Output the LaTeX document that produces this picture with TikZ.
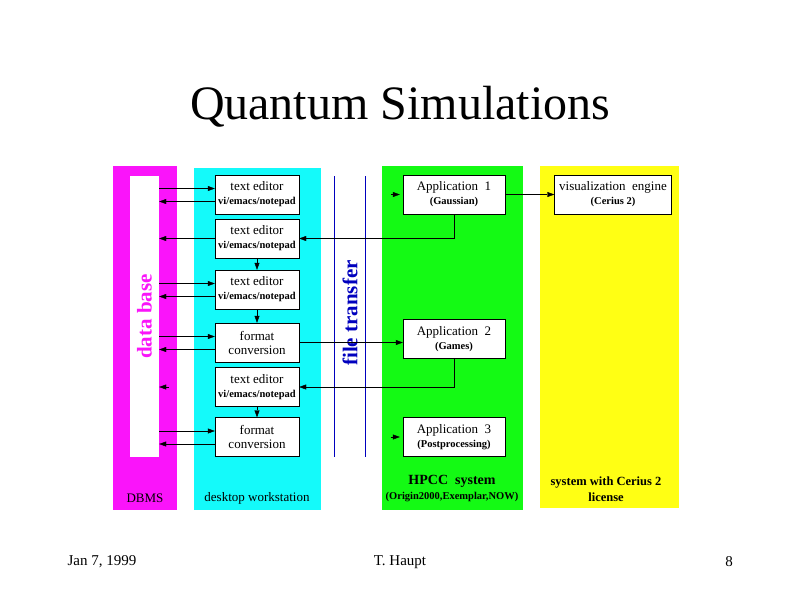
\documentclass[tikz,border=0pt]{standalone}
\usepackage{fontspec}
\setmainfont{Liberation Serif}
\usetikzlibrary{arrows.meta,positioning,calc}

\definecolor{dbmagenta}{RGB}{250,20,250}
\definecolor{wscyan}{RGB}{20,250,250}
\definecolor{hpgreen}{RGB}{20,250,20}
\definecolor{cryellow}{RGB}{255,255,20}
\definecolor{ftblue}{RGB}{0,0,190}

\newcommand{\boxsub}[1]{{\fontsize{10.5}{12}\selectfont\bfseries #1}}

\begin{document}
\begin{tikzpicture}[x=1pt, y=-1pt,
    % Base styles for the boxes
    every node/.style={font=\fontsize{13}{14}\selectfont},
    box/.style={draw, fill=white, minimum width=84pt, minimum height=39pt,
        inner sep=1pt, align=center},
    dbbar/.style={fill=white, minimum width=29pt, minimum height=281pt, inner sep=0pt},
    panellabel/.style={font=\fontsize{13}{15}\selectfont, align=center},
    arr/.style={-{Triangle[length=7pt,width=5pt]}}
]
\useasboundingbox (0,0) rectangle (800,600);

% ==================== TITLE AND FOOTER ====================
\node (title) at (400,107) {\fontsize{48}{52}\selectfont Quantum Simulations};
\node[anchor=west, font=\fontsize{15}{17}\selectfont] (date) at (64,562) {Jan 7, 1999};
\node[font=\fontsize{15}{17}\selectfont] (author) at (400,562) {T. Haupt};
\node[font=\fontsize{15}{17}\selectfont] (page) at (729,562) {8};

% ==================== PANELS ====================
\fill[dbmagenta] (113,166) rectangle (177,510);
\fill[wscyan] (194,168) rectangle (321,510);
\fill[hpgreen] (382,166) rectangle (523,510);
\fill[cryellow] (540,166) rectangle (679,508);

% ==================== DBMS ====================
\node[dbbar] (db) at (144.5,316.5) {};
\node[rotate=90, text=dbmagenta, font=\fontsize{21}{23}\selectfont\bfseries] (dblabel) at (db) {data base};
\node[panellabel] (dbms) at (145,498) {DBMS};

% ==================== DESKTOP WORKSTATION ====================
\node[box] (te1) at (257,194.5) {text editor\\\boxsub{vi/emacs/notepad}};
\node[box] (te2) at (257,238.5) {text editor\\\boxsub{vi/emacs/notepad}};
\node[box] (te3) at (257,289.5) {text editor\\\boxsub{vi/emacs/notepad}};
\node[box] (fc1) at (257,342.5) {format\\conversion};
\node[box] (te5) at (257,387) {text editor\\\boxsub{vi/emacs/notepad}};
\node[box] (fc2) at (257,437) {format\\conversion};
\node[panellabel] (wslabel) at (257,498) {desktop workstation};

% ==================== FILE TRANSFER ====================
\draw[ftblue, semithick] (334,176) -- (334,457);
\draw[ftblue, semithick] (365,176) -- (365,457);
\node[rotate=90, text=ftblue, font=\fontsize{21}{23}\selectfont\bfseries] (ftlabel) at (350,313) {file transfer};

% ==================== HPCC SYSTEM ====================
\node[box, minimum width=102pt] (app1) at (454,194.5) {Application~~1\\\boxsub{(Gaussian)}};
\node[box, minimum width=102pt] (app2) at (454,339) {Application~~2\\\boxsub{(Games)}};
\node[box, minimum width=102pt] (app3) at (454,437) {Application~~3\\\boxsub{(Postprocessing)}};
\node[panellabel, font=\fontsize{14}{16}\selectfont\bfseries] (hpcc) at (452,481) {HPCC~~system};
\node[panellabel, font=\fontsize{10.5}{12}\selectfont\bfseries] (hpccsub) at (452,497) {(Origin2000,Exemplar,NOW)};

% ==================== CERIUS 2 ====================
\node[box, minimum width=117pt] (vis) at (613,194.5) {visualization~~engine\\\boxsub{(Cerius 2)}};
\node[panellabel, font=\fontsize{12.5}{16}\selectfont\bfseries] (cerius) at (606,489) {system with Cerius 2\\license};

% ==================== CONNECTIONS ====================
% data base <-> boxes
\foreach \b in {te1,te3,fc1,fc2} {
    \coordinate (\b-in) at ([yshift=6pt]\b.west);
    \coordinate (\b-out) at ([yshift=-7pt]\b.west);
    \draw[arr] (db.east |- \b-in) -- (\b-in);
    \draw[arr] (\b-out) -- (db.east |- \b-out);
}
\draw[arr] (te2.west) -- (db.east |- te2.west);
\coordinate (dbtip) at ([xshift=10pt]db.east |- te5.west);
\draw[arr] (dbtip) -- (db.east |- dbtip);

% down the workstation
\foreach \a/\b in {te2/te3, te3/fc1, te5/fc2}
    \draw[arr] (\a) -- (\b);

% across the file transfer
\draw[arr] (app1.south) |- (te2.east);
\draw[arr] (fc1.east) -- (fc1.east -| app2.west);
\draw[arr] (app2.south) |- (te5.east);
\draw[arr] (app1.east) -- (vis.west);

% loose arrow tips
\coordinate (tip1) at ([xshift=-12pt]app1.west);
\coordinate (tip3) at ([xshift=-12pt]app3.west);
\draw[arr, shorten >=3pt] (tip1) -- (app1.west);
\draw[arr, shorten >=3pt] (tip3) -- (app3.west);

\end{tikzpicture}
\end{document}
